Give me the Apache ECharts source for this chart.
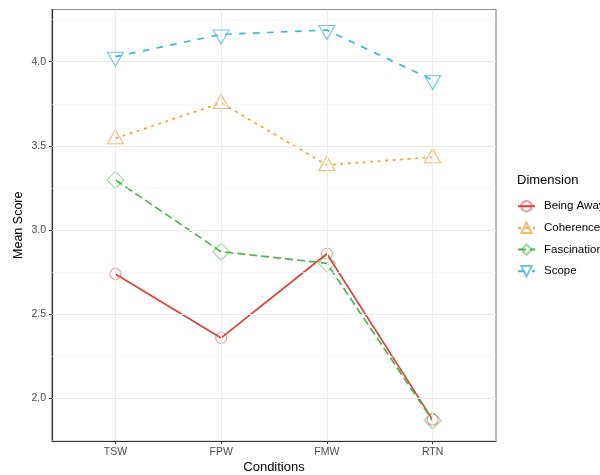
<!DOCTYPE html>
<html>
<head>
<meta charset="utf-8">
<script src="https://cdn.jsdelivr.net/npm/echarts@6/dist/echarts.min.js"></script>
<style>html,body{margin:0;padding:0;background:#fff}#c{width:600px;height:475px}</style>
</head>
<body>
<div id="c"></div>
<script>
// ---- data ----
var conditions = ['TSW', 'FPW', 'FMW', 'RTN'];
var dimensions = ['Being Away', 'Coherence', 'Fascination', 'Scope'];
var beingAway   = [2.74, 2.36, 2.86, 1.875];
var coherence   = [3.545, 3.755, 3.387, 3.433];
var fascination = [3.298, 2.872, 2.803, 1.87];
var scope       = [4.03, 4.162, 4.188, 3.891];
var yTicks = [2.0, 2.5, 3.0, 3.5, 4.0];
var yMinor = [1.75, 2.25, 2.75, 3.25, 3.75, 4.25];

var values = [beingAway, coherence, fascination, scope];
var colors = ['#E0403A', '#F2A33A', '#4DB34F', '#40B6DC'];
var fades  = ['rgba(224,64,58,0.55)', 'rgba(242,163,58,0.75)', 'rgba(77,179,79,0.55)', 'rgba(64,182,220,0.75)'];
var dashes = ['solid', [3, 4.5], [8, 4], [6.5, 7.5]];
var symbols = ['circle', 'triangle', 'diamond', 'triangle'];
var sizes = [[11, 11], [16, 14], [17, 17], [16, 14]];
var rotates = [0, 0, 0, 180];
var offsets = [[0, 0], [0, -1.5], [0, 0], [0, 2.5]];

var FONT = '"Liberation Sans", Arial, sans-serif';

var series = [{
  type: 'line', data: [], silent: true, z: 0,
  markLine: {
    silent: true, symbol: 'none', animation: false,
    label: {show: false},
    data: yMinor.map(function (v) { return {yAxis: v, lineStyle: {color: '#F2F2F2', width: 0.6, type: 'solid'}}; })
      .concat(yTicks.map(function (v) { return {yAxis: v, lineStyle: {color: '#EBEBEB', width: 1.1, type: 'solid'}}; }))
      .concat(conditions.map(function (c, i) { return {xAxis: i + 1, lineStyle: {color: '#EBEBEB', width: 1.1, type: 'solid'}}; }))
  }
}];
dimensions.forEach(function (d, k) {
  series.push({
    name: d, type: 'line', z: 2 + k,
    data: values[k].map(function (v, i) { return [i + 1, v]; }),
    symbol: symbols[k], symbolSize: sizes[k], symbolRotate: rotates[k], symbolOffset: offsets[k],
    showAllSymbol: true,
    lineStyle: {color: colors[k], width: 1.7, type: dashes[k]},
    itemStyle: {color: 'rgba(0,0,0,0)', borderColor: fades[k], borderWidth: 1.1},
    emphasis: {disabled: true}
  });
});

var chart = echarts.init(document.getElementById('c'), null, {renderer: 'canvas'});
chart.setOption({
  animation: false,
  backgroundColor: '#ffffff',
  grid: {left: 52, top: 9.5, right: 104, bottom: 34, outerBoundsMode: 'none', containLabel: false,
    show: true, borderColor: '#8c8c8c', borderWidth: 1.2, backgroundColor: 'transparent'},
  xAxis: {
    type: 'value', min: 0.4, max: 4.6,
    name: 'Conditions', nameLocation: 'middle', nameGap: 19.5, nameMoveOverlap: false,
    nameTextStyle: {fontFamily: FONT, fontSize: 13, color: '#000'},
    axisLine: {show: true, lineStyle: {color: '#333333', width: 1.2}},
    axisTick: {show: true, length: 3, lineStyle: {color: '#333333'}, customValues: [1, 2, 3, 4]},
    axisLabel: {customValues: [1, 2, 3, 4], margin: 6, fontFamily: FONT, fontSize: 10.5, color: '#4D4D4D',
      formatter: function (v) { return conditions[Math.round(v) - 1] || ''; }},
    splitLine: {show: false}
  },
  yAxis: {
    type: 'value', min: 1.748, max: 4.31,
    name: 'Mean Score', nameLocation: 'middle', nameGap: 27, nameRotate: 90, nameMoveOverlap: false,
    nameTextStyle: {fontFamily: FONT, fontSize: 12.5, color: '#000'},
    axisLine: {show: true, lineStyle: {color: '#333333', width: 1.2}},
    axisTick: {show: true, length: 3, lineStyle: {color: '#333333'}, customValues: yTicks},
    axisLabel: {customValues: yTicks, margin: 6, fontFamily: FONT, fontSize: 10.5, color: '#4D4D4D',
      formatter: function (v) { return v.toFixed(1); }},
    splitLine: {show: false}
  },
  legend: {
    data: dimensions, orient: 'vertical', left: 512, top: 195,
    itemWidth: 17, itemHeight: 13, itemGap: 9.3,
    textStyle: {fontFamily: FONT, fontSize: 11.5, color: '#000', padding: [0, 0, 0, 4]},
    selectedMode: false
  },
  graphic: [{
    type: 'text', left: 517, top: 174,
    style: {text: 'Dimension', font: '13px "Liberation Sans", Arial, sans-serif', fill: '#000'}
  }],
  series: series
});
</script>
</body>
</html>
